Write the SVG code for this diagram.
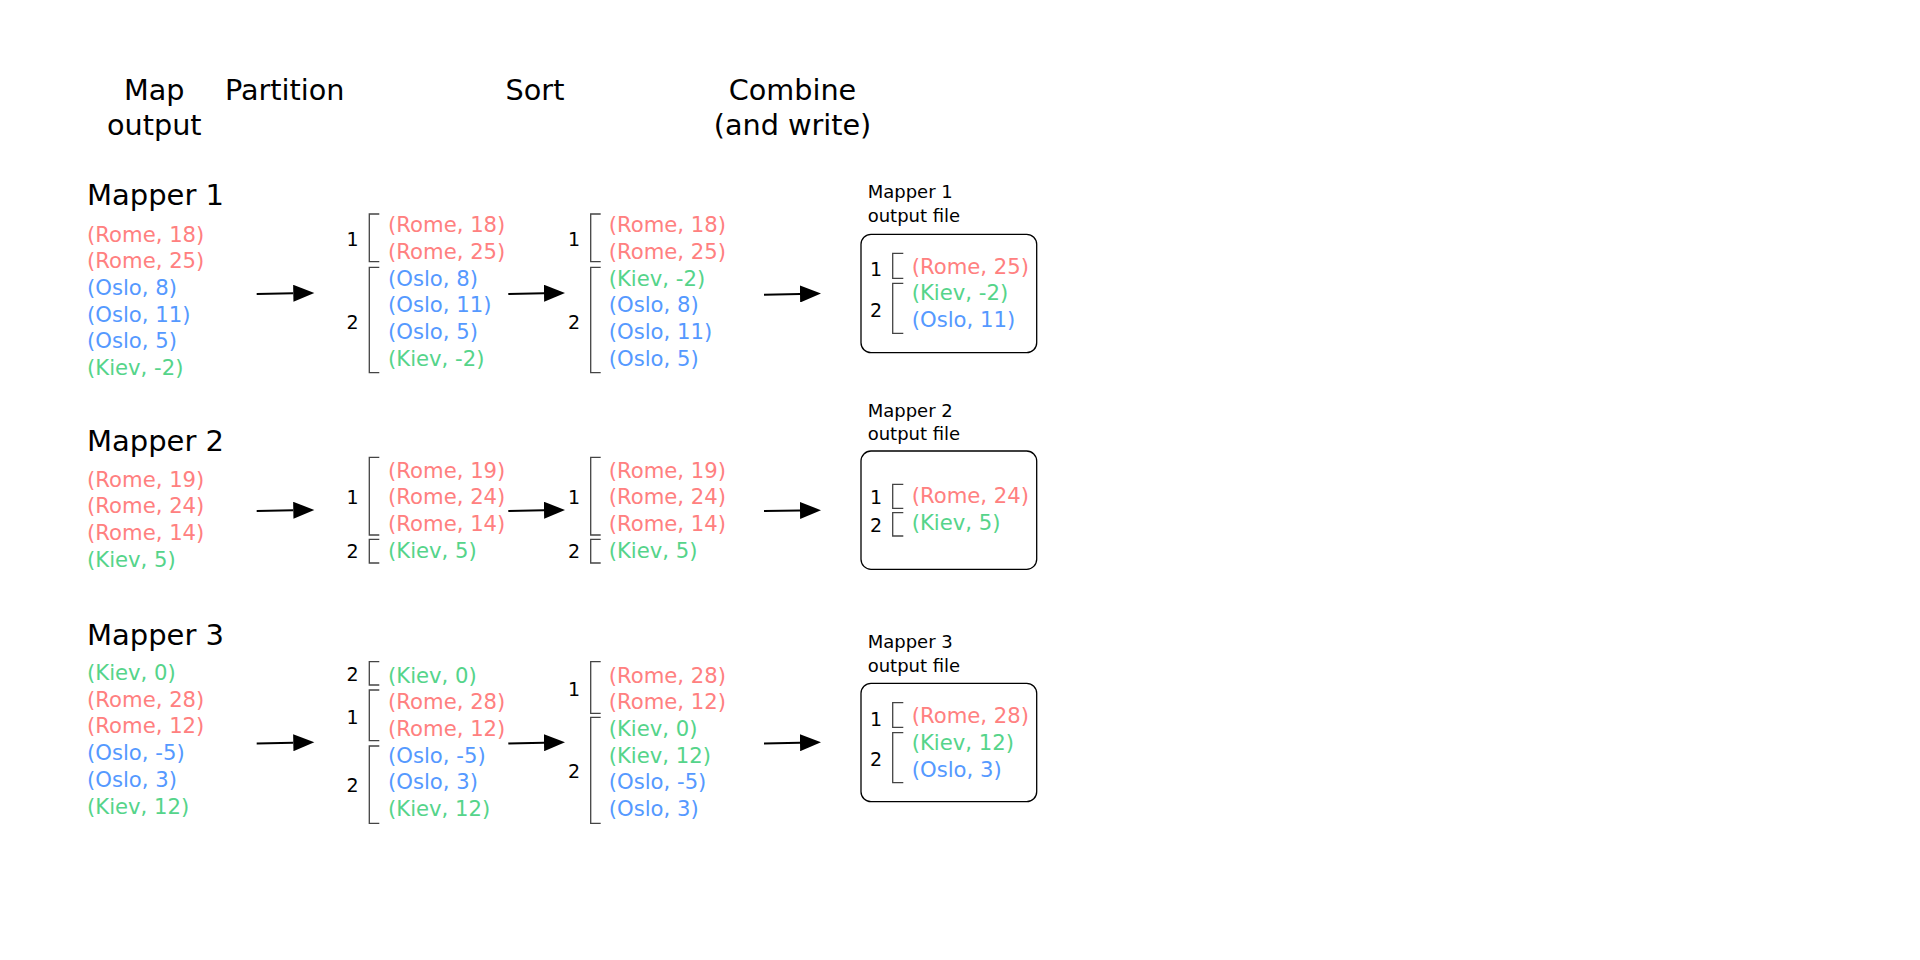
<svg xmlns="http://www.w3.org/2000/svg" width="1920" height="960" viewBox="0 0 1920 960">
<defs>
<marker id="ah" markerUnits="userSpaceOnUse" markerWidth="22" markerHeight="17" refX="0" refY="8.5" orient="auto">
<path d="M0,0 L21,8.5 L0,17 z" fill="#000"/>
</marker>
</defs>
<style>
text{font-family:"DejaVu Sans","Noto Sans",sans-serif;}
.h{font-size:28.7px;fill:#000;text-anchor:middle;}
.t{font-size:29px;fill:#000;}
.r{font-size:21.2px;}
.R{fill:#ff8080;}
.O{fill:#5599ff;}
.K{fill:#55d48a;}
.n{font-size:19px;fill:#000;text-anchor:middle;}
.f{font-size:18px;fill:#000;}
.b{fill:none;stroke:#444;stroke-width:1.3;}
.box{fill:#fff;stroke:#000;stroke-width:1.3;}
.a{stroke:#000;stroke-width:2;fill:none;marker-end:url(#ah);}
</style>
<rect width="1920" height="960" fill="#fff"/>
<g id="headers">
<text class="h" x="154.3" y="100">Map</text>
<text class="h" x="154.3" y="135">output</text>
<text class="h" x="284.7" y="100">Partition</text>
<text class="h" x="535" y="100">Sort</text>
<text class="h" x="792.5" y="100">Combine</text>
<text class="h" x="792.5" y="135">(and write)</text>
</g>
<g id="connectors">
<line class="a" x1="256.7" y1="294" x2="293.3" y2="293.3"/>
<line class="a" x1="508.3" y1="294" x2="544" y2="293.3"/>
<line class="a" x1="764" y1="294.7" x2="800" y2="294"/>
<line class="a" x1="256.7" y1="511" x2="293.3" y2="510.3"/>
<line class="a" x1="508.3" y1="511" x2="544" y2="510.3"/>
<line class="a" x1="764" y1="511" x2="800" y2="510.5"/>
<line class="a" x1="256.7" y1="743.4" x2="293.3" y2="742.7"/>
<line class="a" x1="508.3" y1="743.4" x2="544" y2="742.7"/>
<line class="a" x1="764" y1="743.4" x2="800" y2="742.7"/>
</g>
<g id="mapper1">
<g id="m1-map">
<text class="t" x="87" y="205">Mapper 1</text>
<text class="r R" x="87" y="241.5">(Rome, 18)</text>
<text class="r R" x="87" y="268.2">(Rome, 25)</text>
<text class="r O" x="87" y="294.9">(Oslo, 8)</text>
<text class="r O" x="87" y="321.6">(Oslo, 11)</text>
<text class="r O" x="87" y="348.3">(Oslo, 5)</text>
<text class="r K" x="87" y="375">(Kiev, -2)</text>
</g>
<g id="m1-partition">
<path class="b" d="M379.3,214 H369.3 V261.7 H379.3"/>
<path class="b" d="M379.3,267.3 H369.3 V372.7 H379.3"/>
<text class="n" x="352.5" y="245.8">1</text>
<text class="n" x="352.5" y="328.5">2</text>
<text class="r R" x="388" y="232.3">(Rome, 18)</text>
<text class="r R" x="388" y="259">(Rome, 25)</text>
<text class="r O" x="388" y="285.7">(Oslo, 8)</text>
<text class="r O" x="388" y="312.4">(Oslo, 11)</text>
<text class="r O" x="388" y="339.1">(Oslo, 5)</text>
<text class="r K" x="388" y="365.8">(Kiev, -2)</text>
</g>
<g id="m1-sort">
<path class="b" d="M600.7,214 H590.7 V261.7 H600.7"/>
<path class="b" d="M600.7,267.3 H590.7 V372.7 H600.7"/>
<text class="n" x="574" y="245.8">1</text>
<text class="n" x="574" y="328.5">2</text>
<text class="r R" x="608.7" y="232.3">(Rome, 18)</text>
<text class="r R" x="608.7" y="259">(Rome, 25)</text>
<text class="r K" x="608.7" y="285.7">(Kiev, -2)</text>
<text class="r O" x="608.7" y="312.4">(Oslo, 8)</text>
<text class="r O" x="608.7" y="339.1">(Oslo, 11)</text>
<text class="r O" x="608.7" y="365.8">(Oslo, 5)</text>
</g>
<g id="m1-file">
<text class="f" x="867.7" y="198.3">Mapper 1</text>
<text class="f" x="867.7" y="221.7">output file</text>
<rect class="box" x="861" y="234.3" width="175.7" height="118.4" rx="10"/>
<path class="b" d="M903.3,253.3 H892.7 V278.3 H903.3"/>
<path class="b" d="M903.3,283.3 H892.7 V333.3 H903.3"/>
<text class="n" x="876" y="275.8">1</text>
<text class="n" x="876" y="316.8">2</text>
<text class="r R" x="911.7" y="273.7">(Rome, 25)</text>
<text class="r K" x="911.7" y="300.3">(Kiev, -2)</text>
<text class="r O" x="911.7" y="327">(Oslo, 11)</text>
</g>
</g>
<g id="mapper2">
<g id="m2-map">
<text class="t" x="87" y="450.7">Mapper 2</text>
<text class="r R" x="87" y="486.5">(Rome, 19)</text>
<text class="r R" x="87" y="513.2">(Rome, 24)</text>
<text class="r R" x="87" y="539.9">(Rome, 14)</text>
<text class="r K" x="87" y="566.6">(Kiev, 5)</text>
</g>
<g id="m2-partition">
<path class="b" d="M379.3,457.3 H369.3 V535 H379.3"/>
<path class="b" d="M379.3,539.3 H369.3 V563 H379.3"/>
<text class="n" x="352.5" y="504">1</text>
<text class="n" x="352.5" y="558.4">2</text>
<text class="r R" x="388" y="477.7">(Rome, 19)</text>
<text class="r R" x="388" y="504.4">(Rome, 24)</text>
<text class="r R" x="388" y="531.1">(Rome, 14)</text>
<text class="r K" x="388" y="557.8">(Kiev, 5)</text>
</g>
<g id="m2-sort">
<path class="b" d="M600.7,457.3 H590.7 V535 H600.7"/>
<path class="b" d="M600.7,539.3 H590.7 V563 H600.7"/>
<text class="n" x="574" y="504">1</text>
<text class="n" x="574" y="558.4">2</text>
<text class="r R" x="608.7" y="477.7">(Rome, 19)</text>
<text class="r R" x="608.7" y="504.4">(Rome, 24)</text>
<text class="r R" x="608.7" y="531.1">(Rome, 14)</text>
<text class="r K" x="608.7" y="557.8">(Kiev, 5)</text>
</g>
<g id="m2-file">
<text class="f" x="867.7" y="416.7">Mapper 2</text>
<text class="f" x="867.7" y="440">output file</text>
<rect class="box" x="861" y="451" width="175.7" height="118.3" rx="10"/>
<path class="b" d="M903.3,484.3 H892.7 V508.3 H903.3"/>
<path class="b" d="M903.3,512.7 H892.7 V536 H903.3"/>
<text class="n" x="876" y="503.5">1</text>
<text class="n" x="876" y="531.8">2</text>
<text class="r R" x="911.7" y="503">(Rome, 24)</text>
<text class="r K" x="911.7" y="530">(Kiev, 5)</text>
</g>
</g>
<g id="mapper3">
<g id="m3-map">
<text class="t" x="87" y="645">Mapper 3</text>
<text class="r K" x="87" y="680">(Kiev, 0)</text>
<text class="r R" x="87" y="706.7">(Rome, 28)</text>
<text class="r R" x="87" y="733.4">(Rome, 12)</text>
<text class="r O" x="87" y="760.1">(Oslo, -5)</text>
<text class="r O" x="87" y="786.8">(Oslo, 3)</text>
<text class="r K" x="87" y="813.5">(Kiev, 12)</text>
</g>
<g id="m3-partition">
<path class="b" d="M379.3,661.7 H369.3 V685 H379.3"/>
<path class="b" d="M379.3,690 H369.3 V740.7 H379.3"/>
<path class="b" d="M379.3,746 H369.3 V823.3 H379.3"/>
<text class="n" x="352.5" y="681">2</text>
<text class="n" x="352.5" y="724">1</text>
<text class="n" x="352.5" y="791.7">2</text>
<text class="r K" x="388" y="682.5">(Kiev, 0)</text>
<text class="r R" x="388" y="709.2">(Rome, 28)</text>
<text class="r R" x="388" y="735.9">(Rome, 12)</text>
<text class="r O" x="388" y="762.6">(Oslo, -5)</text>
<text class="r O" x="388" y="789.3">(Oslo, 3)</text>
<text class="r K" x="388" y="816">(Kiev, 12)</text>
</g>
<g id="m3-sort">
<path class="b" d="M600.7,661.7 H590.7 V713.3 H600.7"/>
<path class="b" d="M600.7,717.3 H590.7 V823.3 H600.7"/>
<text class="n" x="574" y="696">1</text>
<text class="n" x="574" y="778.4">2</text>
<text class="r R" x="608.7" y="682.5">(Rome, 28)</text>
<text class="r R" x="608.7" y="709.2">(Rome, 12)</text>
<text class="r K" x="608.7" y="735.9">(Kiev, 0)</text>
<text class="r K" x="608.7" y="762.6">(Kiev, 12)</text>
<text class="r O" x="608.7" y="789.3">(Oslo, -5)</text>
<text class="r O" x="608.7" y="816">(Oslo, 3)</text>
</g>
<g id="m3-file">
<text class="f" x="867.7" y="648.3">Mapper 3</text>
<text class="f" x="867.7" y="671.7">output file</text>
<rect class="box" x="861" y="683.3" width="175.7" height="118.4" rx="10"/>
<path class="b" d="M903.3,702.7 H892.7 V727.3 H903.3"/>
<path class="b" d="M903.3,732.7 H892.7 V782.7 H903.3"/>
<text class="n" x="876" y="725.8">1</text>
<text class="n" x="876" y="766">2</text>
<text class="r R" x="911.7" y="723">(Rome, 28)</text>
<text class="r K" x="911.7" y="749.8">(Kiev, 12)</text>
<text class="r O" x="911.7" y="776.5">(Oslo, 3)</text>
</g>
</g>
</svg>
